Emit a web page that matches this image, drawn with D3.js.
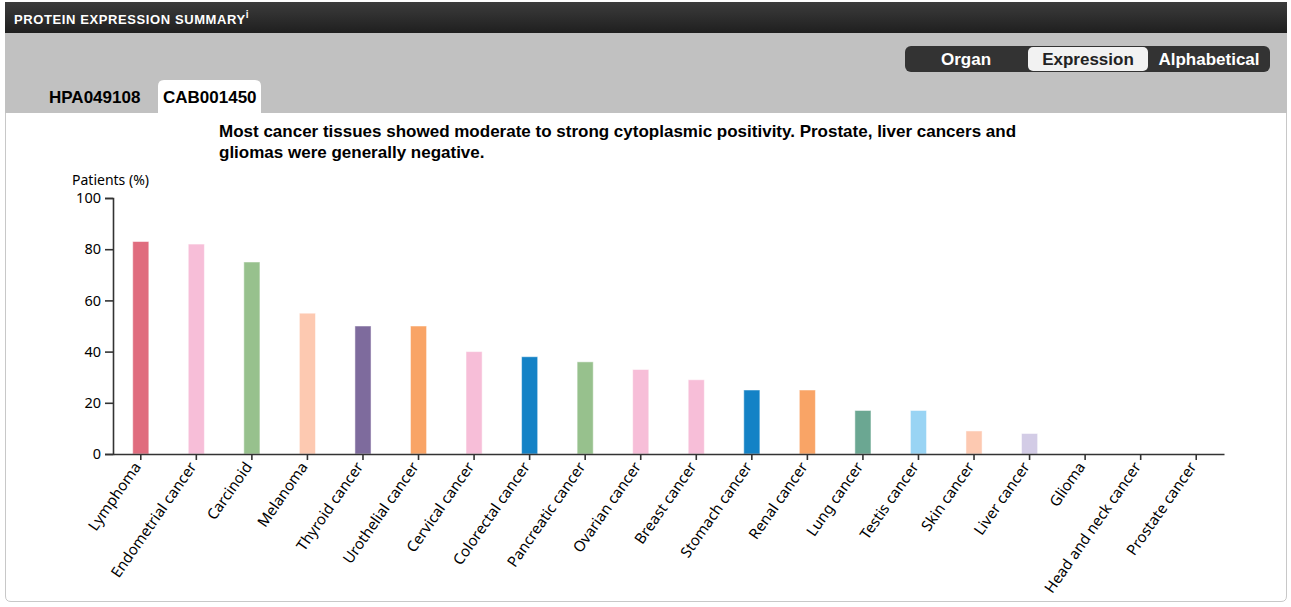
<!DOCTYPE html>
<html>
<head>
<meta charset="utf-8">
<script src="https://cdn.jsdelivr.net/npm/d3@7"></script>
<style>
  body { margin: 0; background: #fff; }
  svg { display: block; }
</style>
</head>
<body>
<script>
var cancers = ["Lymphoma", "Endometrial cancer", "Carcinoid", "Melanoma", "Thyroid cancer",
               "Urothelial cancer", "Cervical cancer", "Colorectal cancer", "Pancreatic cancer",
               "Ovarian cancer", "Breast cancer", "Stomach cancer", "Renal cancer", "Lung cancer",
               "Testis cancer", "Skin cancer", "Liver cancer", "Glioma", "Head and neck cancer",
               "Prostate cancer"];
var patients = [83, 82, 75, 55, 50, 50, 40, 38, 36, 33, 29, 25, 25, 17, 17, 9, 8, 0, 0, 0];
var barColors = ["#e06c7e", "#f7bed8", "#97c18d", "#fdc9b1", "#7e6b9d", "#f9a466", "#f7bed8",
                 "#1482c6", "#97c18d", "#f7bed8", "#f7bed8", "#1482c6", "#f9a466", "#6ba792",
                 "#99d4f4", "#fdc9b1", "#d3cce6", "#cccccc", "#cccccc", "#cccccc"];
var yTicks = [0, 20, 40, 60, 80, 100];
var sortButtons = ["Organ", "Expression", "Alphabetical"];
var antibodies = ["HPA049108", "CAB001450"];
var summary = ["Most cancer tissues showed moderate to strong cytoplasmic positivity. Prostate, liver cancers and",
               "gliomas were generally negative."];

var W = 1291, H = 607;
var svg = d3.select("body").append("svg").attr("width", W).attr("height", H);
var boldFont = "Liberation Sans, Arial, sans-serif";
var chartFont = "Noto Sans, Open Sans, sans-serif";

// panel frame
svg.append("path")
   .attr("d", "M5.5,2 V596 Q5.5,601.5 11,601.5 H1281 Q1286.5,601.5 1286.5,596 V2")
   .attr("fill", "#fff").attr("stroke", "#c8c8c8");

var grad = svg.append("defs").append("linearGradient").attr("id", "hdr")
   .attr("x1", 0).attr("y1", 0).attr("x2", 0).attr("y2", 1);
grad.append("stop").attr("offset", "0%").attr("stop-color", "#3c3c3c");
grad.append("stop").attr("offset", "100%").attr("stop-color", "#1f1f1f");

svg.append("rect").attr("x", 5).attr("y", 2).attr("width", 1282).attr("height", 31).attr("fill", "url(#hdr)");
svg.append("rect").attr("x", 5).attr("y", 33).attr("width", 1282).attr("height", 80).attr("fill", "#c1c1c1");

var hdr = svg.append("text").attr("x", 14).attr("y", 24)
   .attr("font-family", boldFont).attr("font-weight", "bold")
   .attr("font-size", "13px").attr("letter-spacing", "0.6px").attr("fill", "#fff");
hdr.append("tspan").text("PROTEIN EXPRESSION SUMMARY");
hdr.append("tspan").attr("dy", -6).attr("font-size", "10px").text("i");

// sort buttons
svg.append("rect").attr("x", 905).attr("y", 46).attr("width", 365).attr("height", 26)
   .attr("rx", 6).attr("fill", "#333");
svg.append("rect").attr("x", 1028).attr("y", 47).attr("width", 120).attr("height", 24)
   .attr("rx", 5).attr("fill", "#f2f2f2");
var btnX = [966, 1088, 1209];
svg.selectAll("text.btn").data(sortButtons).enter().append("text")
   .attr("class", "btn")
   .attr("x", function(d, i) { return btnX[i]; })
   .attr("y", 65)
   .attr("text-anchor", "middle")
   .attr("font-family", boldFont)
   .attr("font-weight", "bold").attr("font-size", "17px")
   .attr("fill", function(d, i) { return i == 1 ? "#222" : "#fff"; })
   .text(function(d) { return d; });

// antibody tabs
svg.append("path")
   .attr("d", "M158,113 V86 Q158,80 164,80 H255 Q261,80 261,86 V113 Z")
   .attr("fill", "#fff");
var tabX = [49, 163];
svg.selectAll("text.tab").data(antibodies).enter().append("text")
   .attr("class", "tab")
   .attr("x", function(d, i) { return tabX[i]; })
   .attr("y", 103)
   .attr("font-family", boldFont)
   .attr("font-weight", "bold").attr("font-size", "17px")
   .attr("fill", "#000")
   .text(function(d) { return d; });

svg.selectAll("text.summary").data(summary).enter().append("text")
   .attr("class", "summary")
   .attr("x", 219)
   .attr("y", function(d, i) { return 137 + i * 21; })
   .attr("font-family", boldFont)
   .attr("font-weight", "bold").attr("font-size", "17px")
   .attr("fill", "#000")
   .text(function(d) { return d; });

// chart
var x = d3.scaleBand().domain(cancers).range([113, 1224]).paddingInner(0.71).paddingOuter(0.355);
var y = d3.scaleLinear().domain([0, 100]).range([454, 198]);

svg.selectAll("rect.bar").data(patients).enter().append("rect")
   .attr("class", "bar")
   .attr("x", function(d, i) { return x(cancers[i]); })
   .attr("y", function(d) { return y(d); })
   .attr("width", x.bandwidth())
   .attr("height", function(d) { return y(0) - y(d); })
   .attr("fill", function(d, i) { return barColors[i]; })
   .attr("stroke", "#fff").attr("stroke-opacity", 0.5);

var yAxis = svg.append("g").attr("transform", "translate(113,0)")
   .call(d3.axisLeft(y).tickValues(yTicks).tickSize(8).tickPadding(4));
yAxis.selectAll("text").attr("font-family", chartFont).attr("font-size", "14.5px").attr("fill", "#000");

var xAxis = svg.append("g").attr("transform", "translate(0,454)")
   .call(d3.axisBottom(x).tickSize(6).tickSizeOuter(0));
xAxis.selectAll("text")
   .attr("font-family", chartFont).attr("font-size", "15px").attr("fill", "#000")
   .attr("text-anchor", "end")
   .attr("y", 0)
   .attr("dx", "-10px").attr("dy", "8px")
   .attr("transform", "rotate(-55)");

svg.selectAll(".domain, .tick line").attr("stroke", "#333").attr("stroke-width", 1.6);

svg.append("text").attr("x", 72).attr("y", 185)
   .attr("font-family", chartFont).attr("font-size", "14px").attr("fill", "#000")
   .text("Patients (%)");
</script>
</body>
</html>
